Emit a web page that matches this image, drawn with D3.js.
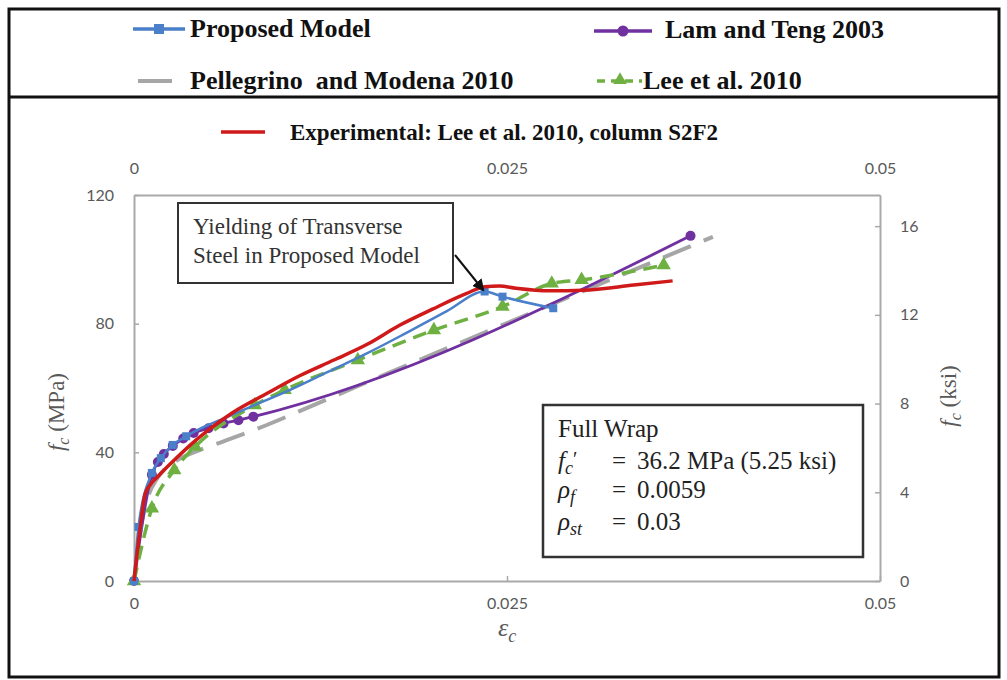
<!DOCTYPE html>
<html>
<head>
<meta charset="utf-8">
<script src="https://cdn.jsdelivr.net/npm/d3@7"></script>
<style>
  html, body { margin: 0; padding: 0; background: #fff; }
  svg { display: block; }
</style>
</head>
<body>
<svg id="chart" width="1007" height="680"></svg>
<script>
// ---------------- DATA ----------------
const strainTicks = [0, 0.025, 0.05];
const mpaTicks = [0, 40, 80, 120];
const ksiTicks = [0, 4, 8, 12, 16];

// Proposed Model
const propStrain = [0, 0.0003, 0.0012, 0.0018, 0.0026, 0.0035, 0.0045, 0.006, 0.008, 0.0105, 0.013, 0.0155, 0.018, 0.021, 0.0235, 0.0247, 0.0281];
const propStress = [0, 16.8, 33.6, 38.2, 42.3, 45, 47.5, 50.5, 54.5, 59.5, 65, 70.5, 76.5, 84, 90, 88.4, 84.8];
const propMarkerIdx = [0, 1, 2, 3, 4, 5, 14, 15, 16];

// Lam and Teng 2003
const lamStrain = [0, 0.0012, 0.0016, 0.002, 0.0026, 0.0033, 0.004, 0.005, 0.006, 0.007, 0.008, 0.0373];
const lamStress = [0, 33, 37, 39.5, 42, 44.3, 46, 47.5, 49, 50, 51.1, 107.3];

// Pellegrino and Modena 2010
const pelStrain = [0, 0.0005, 0.001, 0.0015, 0.002, 0.003, 0.0044, 0.006, 0.0089, 0.0118, 0.0149, 0.0178, 0.0388];
const pelStress = [0, 18, 27, 31.5, 34.5, 37.8, 40.7, 43.4, 48.5, 54.2, 60.4, 66.1, 107];

// Lee et al. 2010
const leeStrain = [0, 0.0012, 0.0027, 0.0041, 0.0081, 0.0101, 0.015, 0.0201, 0.0247, 0.028, 0.030, 0.0355];
const leeStress = [0, 22.6, 34.5, 41.8, 54.7, 59.4, 68.7, 78, 85.3, 92.5, 93.6, 98.2];

// Experimental: Lee et al. 2010, column S2F2
const expStrain = [0, 0.0004, 0.00074, 0.0011, 0.0016, 0.0027, 0.0039, 0.005, 0.0066, 0.0089, 0.0111, 0.0134, 0.0156, 0.0178, 0.020, 0.0223, 0.0235, 0.0245, 0.0256, 0.0279, 0.0301, 0.0335, 0.0361];
const expStress = [0, 16, 27, 30, 32.5, 37.6, 42.8, 47, 52.3, 58.3, 63.8, 68.7, 73.5, 79.5, 84.5, 89.4, 91.5, 91.7, 91, 90.2, 90.4, 92, 93.3];

const MPA_PER_KSI = 6.895;

// ---------------- CHART ----------------
const svg = d3.select("#chart");
const plot = {left: 134, right: 880, top: 195, bottom: 581};

const x = d3.scaleLinear().domain([0, 0.05]).range([plot.left, plot.right]);
const y = d3.scaleLinear().domain([0, 120]).range([plot.bottom, plot.top]);
const yK = d3.scaleLinear().domain([0, 120 / MPA_PER_KSI]).range([plot.bottom, plot.top]);

const axisColor = "#a9a9a9";
const labelColor = "#595959";
const tickFont = "Lato, 'Open Sans', sans-serif";
const serif = "'Liberation Serif', 'Times New Roman', serif";

const colors = {
  prop: "#4a7fc9",
  lam: "#7030a0",
  pel: "#a6a6a6",
  lee: "#6fb043",
  exp: "#d01919"
};

// outer frame
svg.append("rect").attr("x", 9).attr("y", 9).attr("width", 990).attr("height", 668)
  .attr("fill", "none").attr("stroke", "#111").attr("stroke-width", 3);
svg.append("line").attr("x1", 9).attr("x2", 999).attr("y1", 97).attr("y2", 97)
  .attr("stroke", "#111").attr("stroke-width", 3);

function styleAxis(g) {
  g.select(".domain").attr("stroke", axisColor).attr("stroke-width", 2);
  g.selectAll(".tick line").attr("stroke", axisColor).attr("stroke-width", 1.5);
  g.selectAll(".tick text").attr("fill", labelColor).attr("font-family", tickFont).attr("font-size", 16);
}
const fmt = d => String(d);

svg.append("g").attr("transform", `translate(${plot.left},0)`)
  .call(d3.axisLeft(y).tickValues(mpaTicks).tickSizeInner(-5).tickSizeOuter(0).tickPadding(20).tickFormat(fmt))
  .call(styleAxis);
svg.append("g").attr("transform", `translate(${plot.right},0)`)
  .call(d3.axisRight(yK).tickValues(ksiTicks).tickSizeInner(-5).tickSizeOuter(0).tickPadding(20).tickFormat(fmt))
  .call(styleAxis);
svg.append("g").attr("transform", `translate(0,${plot.bottom})`)
  .call(d3.axisBottom(x).tickValues(strainTicks).tickSizeInner(-5).tickSizeOuter(0).tickPadding(17).tickFormat(fmt))
  .call(styleAxis);
svg.append("g").attr("transform", `translate(0,${plot.top})`)
  .call(d3.axisTop(x).tickValues(strainTicks).tickSizeInner(0).tickSizeOuter(0).tickPadding(21).tickFormat(fmt))
  .call(styleAxis);

// axis titles
const yTitle = svg.append("text").attr("transform", "translate(64,412) rotate(-90)")
  .attr("text-anchor", "middle").attr("font-family", serif).attr("font-size", 23).attr("fill", labelColor);
yTitle.append("tspan").attr("font-style", "italic").text("f");
yTitle.append("tspan").attr("font-style", "italic").attr("font-size", 16).attr("dy", 5).text("c");
yTitle.append("tspan").attr("dy", -5).text(" (MPa)");

const yTitleR = svg.append("text").attr("transform", "translate(956,396) rotate(-90)")
  .attr("text-anchor", "middle").attr("font-family", serif).attr("font-size", 23).attr("fill", labelColor);
yTitleR.append("tspan").attr("font-style", "italic").text("f");
yTitleR.append("tspan").attr("font-style", "italic").attr("font-size", 16).attr("dy", 5).text("c");
yTitleR.append("tspan").attr("dy", -5).text(" (ksi)");

const xTitle = svg.append("text").attr("x", 507).attr("y", 636)
  .attr("text-anchor", "middle").attr("font-family", serif).attr("font-size", 26).attr("fill", labelColor);
xTitle.append("tspan").attr("font-style", "italic").text("ε");
xTitle.append("tspan").attr("font-style", "italic").attr("font-size", 18).attr("dy", 6).text("c");

// series helpers
const zip = (xs, ys) => xs.map((d, i) => [d, ys[i]]);
const line = d3.line().x(d => x(d[0])).y(d => y(d[1])).curve(d3.curveMonotoneX);

const pelData = zip(pelStrain, pelStress);
const lamData = zip(lamStrain, lamStress);
const leeData = zip(leeStrain, leeStress);
const propData = zip(propStrain, propStress);
const expData = zip(expStrain, expStress);

const gLines = svg.append("g");
gLines.append("path").datum(pelData).attr("d", line).attr("fill", "none")
  .attr("stroke", colors.pel).attr("stroke-width", 4).attr("stroke-dasharray", "30,14");
gLines.append("path").datum(lamData).attr("d", line).attr("fill", "none")
  .attr("stroke", colors.lam).attr("stroke-width", 2.8);
gLines.selectAll(".lamPt").data(lamData).join("circle")
  .attr("cx", d => x(d[0])).attr("cy", d => y(d[1])).attr("r", 5).attr("fill", colors.lam);
gLines.append("path").datum(leeData).attr("d", line).attr("fill", "none")
  .attr("stroke", colors.lee).attr("stroke-width", 3.5).attr("stroke-dasharray", "14,8");
const tri = d3.symbol().type(d3.symbolTriangle).size(90);
gLines.selectAll(".leePt").data(leeData).join("path")
  .attr("d", tri).attr("transform", d => `translate(${x(d[0])},${y(d[1])})`).attr("fill", colors.lee);
gLines.append("path").datum(propData).attr("d", line).attr("fill", "none")
  .attr("stroke", colors.prop).attr("stroke-width", 2.5);
gLines.selectAll(".propPt").data(propMarkerIdx.map(i => propData[i])).join("rect")
  .attr("x", d => x(d[0]) - 4).attr("y", d => y(d[1]) - 4).attr("width", 8).attr("height", 8)
  .attr("fill", colors.prop);
gLines.append("path").datum(expData).attr("d", line).attr("fill", "none")
  .attr("stroke", colors.exp).attr("stroke-width", 3.5);

// ---------------- LEGEND ----------------
const legend = svg.append("g").attr("font-family", serif).attr("font-weight", "bold").attr("fill", "#111");
// Proposed Model
legend.append("line").attr("x1", 133).attr("x2", 185).attr("y1", 29).attr("y2", 29)
  .attr("stroke", colors.prop).attr("stroke-width", 3.5);
legend.append("rect").attr("x", 154).attr("y", 24).attr("width", 10).attr("height", 10).attr("fill", colors.prop);
legend.append("text").attr("x", 190).attr("y", 37).attr("font-size", 26).text("Proposed Model");
// Lam and Teng
legend.append("line").attr("x1", 594).attr("x2", 652).attr("y1", 31).attr("y2", 31)
  .attr("stroke", colors.lam).attr("stroke-width", 3.5);
legend.append("circle").attr("cx", 623).attr("cy", 31).attr("r", 5.5).attr("fill", colors.lam);
legend.append("text").attr("x", 665).attr("y", 38).attr("font-size", 26).text("Lam and Teng 2003");
// Pellegrino
legend.append("line").attr("x1", 138).attr("x2", 172).attr("y1", 81).attr("y2", 81)
  .attr("stroke", colors.pel).attr("stroke-width", 4);
legend.append("text").attr("x", 190).attr("y", 89).attr("font-size", 26).attr("xml:space", "preserve")
  .text("Pellegrino  and Modena 2010");
// Lee et al
legend.append("line").attr("x1", 597).attr("x2", 642).attr("y1", 81).attr("y2", 81)
  .attr("stroke", colors.lee).attr("stroke-width", 3.5).attr("stroke-dasharray", "8,6");
legend.append("path").attr("d", d3.symbol().type(d3.symbolTriangle).size(80))
  .attr("transform", "translate(620,80)").attr("fill", colors.lee);
legend.append("text").attr("x", 643).attr("y", 89).attr("font-size", 26).text("Lee et al. 2010");
// Experimental
legend.append("line").attr("x1", 221).attr("x2", 265).attr("y1", 132).attr("y2", 132)
  .attr("stroke", colors.exp).attr("stroke-width", 3.5);
legend.append("text").attr("x", 290).attr("y", 140).attr("font-size", 23)
  .text("Experimental: Lee et al. 2010, column S2F2");

// ---------------- ANNOTATIONS ----------------
svg.append("defs").append("marker").attr("id", "arrow").attr("viewBox", "0 0 10 10")
  .attr("refX", 9).attr("refY", 5).attr("markerWidth", 6).attr("markerHeight", 6)
  .attr("orient", "auto").append("path").attr("d", "M0,0 L10,5 L0,10 z").attr("fill", "#111");

svg.append("rect").attr("x", 178).attr("y", 203).attr("width", 275).attr("height", 80)
  .attr("fill", "#fff").attr("stroke", "#333").attr("stroke-width", 2);
const ann = svg.append("text").attr("font-family", serif).attr("font-size", 23).attr("fill", "#333");
ann.append("tspan").attr("x", 193).attr("y", 234).text("Yielding of Transverse");
ann.append("tspan").attr("x", 193).attr("y", 263).text("Steel in Proposed Model");
svg.append("line").attr("x1", 455).attr("y1", 255).attr("x2", x(0.0235) - 1).attr("y2", y(90) - 1)
  .attr("stroke", "#111").attr("stroke-width", 2).attr("marker-end", "url(#arrow)");

svg.append("rect").attr("x", 543).attr("y", 405).attr("width", 320).attr("height", 152)
  .attr("fill", "#fff").attr("stroke", "#333").attr("stroke-width", 2.5);
const info = svg.append("g").attr("font-family", serif).attr("font-size", 25).attr("fill", "#222");
info.append("text").attr("x", 558).attr("y", 437).text("Full Wrap");
const l2 = info.append("text").attr("x", 558).attr("y", 469);
l2.append("tspan").attr("font-style", "italic").text("f");
l2.append("tspan").attr("font-style", "italic").attr("font-size", 18).attr("dy", 5).text("c");
l2.append("tspan").attr("font-size", 20).attr("dy", -8).text("′");
l2.append("tspan").attr("x", 612).attr("dy", 3).text("=");
l2.append("tspan").attr("x", 637).text("36.2 MPa (5.25 ksi)");
const l3 = info.append("text").attr("x", 558).attr("y", 498);
l3.append("tspan").attr("font-style", "italic").text("ρ");
l3.append("tspan").attr("font-style", "italic").attr("font-size", 18).attr("dy", 5).text("f");
l3.append("tspan").attr("x", 612).attr("dy", -5).text("=");
l3.append("tspan").attr("x", 637).text("0.0059");
const l4 = info.append("text").attr("x", 558).attr("y", 530);
l4.append("tspan").attr("font-style", "italic").text("ρ");
l4.append("tspan").attr("font-style", "italic").attr("font-size", 18).attr("dy", 5).text("st");
l4.append("tspan").attr("x", 612).attr("dy", -5).text("=");
l4.append("tspan").attr("x", 637).text("0.03");
</script>
</body>
</html>
